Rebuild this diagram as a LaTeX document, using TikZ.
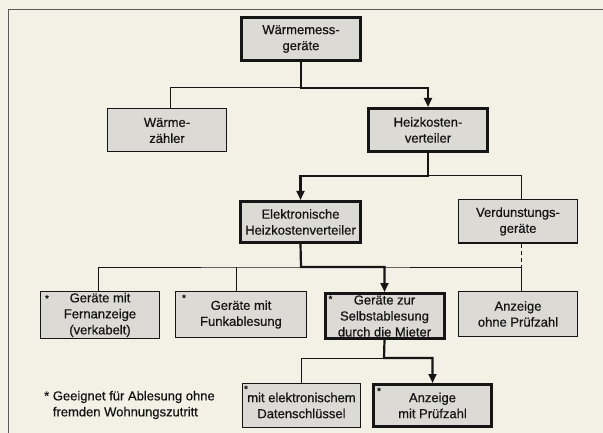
\documentclass[tikz,border=0pt]{standalone}
\usepackage{fontspec}
\setmainfont{Liberation Sans}[BoldFont={Liberation Sans}, BoldFeatures={FakeBold=0.6}]
\usetikzlibrary{arrows.meta, positioning, calc}
\definecolor{paper}{HTML}{F3F0E6}
\definecolor{boxgray}{HTML}{DCDAD5}
\definecolor{inkdark}{HTML}{151515}
\definecolor{framegray}{HTML}{5A5A5A}

\begin{document}
\begin{tikzpicture}[x=1pt, y=-1pt, >={Triangle[width=8pt,length=9pt]},
    font=\fontsize{13}{16}\selectfont\bfseries, text=inkdark,
    box/.style={rectangle, draw=inkdark, fill=boxgray, line width=1pt, minimum width=119pt,
      minimum height=43pt, align=center, inner sep=1pt},
    keybox/.style={box, line width=3pt, minimum width=119pt, minimum height=43pt},
    link/.style={draw=inkdark, line width=1pt},
    mainlink/.style={draw=inkdark, line width=2.2pt, ->},
    starmark/.style={font=\fontsize{10}{10}\selectfont\bfseries, inner sep=0pt},
    legend/.style={align=left, anchor=west, inner sep=0pt}]

    % Paper and frame
    \fill[paper] (0,0) rectangle (603,433);
    \useasboundingbox (0,0) rectangle (603,433);
    \draw[framegray, line width=1pt] (603,10) -- (8,10) -- (8,433);

    % Row 1
    \node[keybox] (waerme) at (301,39) {Wärmemess-\\geräte};

    % Row 2
    \node[box] (zaehler) at (167,130.5) {Wärme-\\zähler};
    \node[keybox] (heizko) at (428,130) {Heizkosten-\\verteiler};

    % Row 3
    \node[keybox, minimum width=120pt, minimum height=41pt] (elektro) at (300.5,222) {Elektronische\\Heizkostenverteiler};
    \node[box] (verdunst) at (518,221.5) {Verdunstungs-\\geräte};

    % Row 4
    \node[box, minimum height=45pt] (fern) at (100,315) {Geräte mit\\Fernanzeige\\(verkabelt)};
    \node[box, minimum width=131pt, minimum height=46pt] (funk) at (241,314.5) {Geräte mit\\Funkablesung};
    \node[keybox, minimum height=45pt] (selbst) at (384.5,316) {Geräte zur\\Selbstablesung\\durch die Mieter};
    \node[box, minimum height=45pt] (ohne) at (518,314) {Anzeige\\ohne Prüfzahl};

    % Row 5
    \node[box, minimum width=118pt, minimum height=44pt] (datens) at (301.5,405.5) {mit elektronischem\\Datenschlüssel};
    \node[keybox, minimum width=118pt, minimum height=42pt] (mitpruef) at (432.5,405.5) {Anzeige\\mit Prüfzahl};

    % Asterisks
    \node[starmark] (sfern) at ($(fern.north west)+(7,7)$) {*};
    \node[starmark] (sfunk) at ($(funk.north west)+(9,7)$) {*};
    \node[starmark] (sselbst) at ($(selbst.north west)+(7,7)$) {*};
    \node[starmark] (sdatens) at ($(datens.north west)+(4,6)$) {*};
    \node[starmark] (smitpruef) at ($(mitpruef.north west)+(7,8)$) {*};

    % Legend
    \node[legend] (note) at (44,405) {* Geeignet für Ablesung ohne\\\hphantom{* }fremden Wohnungszutritt};

    % Bus points
    \coordinate (busA) at (301,88);
    \coordinate (busB) at (428,176);
    \coordinate (busC) at (301,267);
    \coordinate (busD) at (384,358);

    % Connections
    \draw[link] (busA) -| ([xshift=3pt]zaehler.north);
    \draw[mainlink] (waerme.south) -- (busA) -| (heizko.north);
    \draw[link] (busB) -| ([xshift=3pt]verdunst.north);
    \draw[mainlink] (heizko.south) -- (busB) -| (elektro.north);
    \draw[link] ([xshift=-2pt]fern.north) |- (busC) -| ([xshift=3pt]ohne.north);
    \draw[link] ([xshift=-5pt]funk.north) -- ([xshift=-5pt]funk.north |- busC);
    \draw[link, dash pattern=on 4pt off 3pt] ([xshift=3pt]verdunst.south) -- ([xshift=3pt]verdunst.south |- busC);
    \draw[mainlink] (elektro.south) -- (busC) -| (selbst.north);
    \draw[link] (busD) -| (datens.north);
    \draw[mainlink] (selbst.south) -- (busD) -| (mitpruef.north);
\end{tikzpicture}
\end{document}
